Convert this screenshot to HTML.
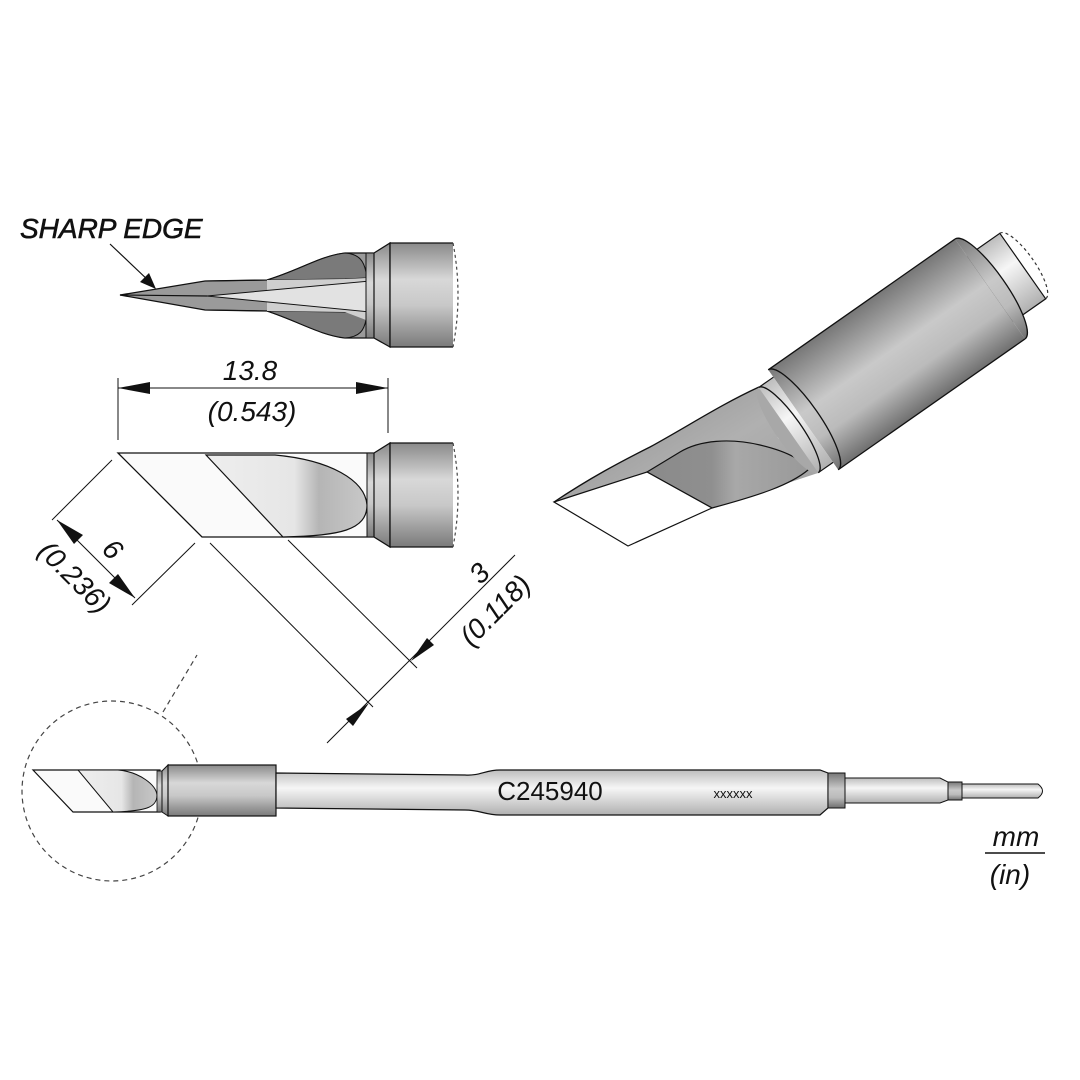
<!DOCTYPE html>
<html><head><meta charset="utf-8"><style>
html,body{margin:0;padding:0;background:#fff}
svg{display:block}
text{font-family:"Liberation Sans",sans-serif;font-style:italic;fill:#111}
</style></head><body>
<svg width="1080" height="1080" viewBox="0 0 1080 1080" xmlns="http://www.w3.org/2000/svg">
<defs>
<linearGradient id="gv" x1="0" y1="0" x2="0" y2="1">
<stop offset="0" stop-color="#8a8a8a"/><stop offset="0.35" stop-color="#d8d8d8"/><stop offset="0.6" stop-color="#c8c8c8"/><stop offset="1" stop-color="#7a7a7a"/></linearGradient>
<linearGradient id="gvl" x1="0" y1="0" x2="0" y2="1">
<stop offset="0" stop-color="#bdbdbd"/><stop offset="0.4" stop-color="#f6f6f6"/><stop offset="1" stop-color="#b0b0b0"/></linearGradient>
<linearGradient id="gbev" x1="0" y1="0" x2="1" y2="0">
<stop offset="0" stop-color="#eeeeee"/><stop offset="0.55" stop-color="#e6e6e6"/><stop offset="0.7" stop-color="#b5b5b5"/><stop offset="1" stop-color="#c8c8c8"/></linearGradient>
<linearGradient id="gcyl" x1="0" y1="0" x2="0" y2="1">
<stop offset="0" stop-color="#777"/><stop offset="0.45" stop-color="#c9c9c9"/><stop offset="0.7" stop-color="#bbb"/><stop offset="1" stop-color="#6f6f6f"/></linearGradient>
<linearGradient id="gcone" x1="0" y1="0" x2="1" y2="1">
<stop offset="0" stop-color="#8a8a8a"/><stop offset="0.5" stop-color="#b0b0b0"/><stop offset="1" stop-color="#999"/></linearGradient>
<linearGradient id="gcut" x1="0" y1="0" x2="1" y2="0">
<stop offset="0" stop-color="#8a8a8a"/><stop offset="0.4" stop-color="#8f8f8f"/><stop offset="0.55" stop-color="#a8a8a8"/><stop offset="1" stop-color="#999"/></linearGradient>
</defs>

<text x="20" y="238" font-size="28" stroke="#111" stroke-width="0.6">SHARP EDGE</text>
<line x1="110" y1="244" x2="150" y2="282" stroke="#111" stroke-width="1.2"/>
<polygon points="156,289 140,282 149,273" fill="#111"/>

<path d="M120,295 L205,281 L267,280 C300,270 320,256 345,253 L373,253 L373,338 L345,338 C320,335 300,322 267,311 L205,310 Z" fill="#9a9a9a" stroke="#111" stroke-width="1.3"/>
<path d="M267,280 C300,270 320,256 345,253 C360,254 364,262 366,272 L366,278 L345,279 Z" fill="#7a7a7a" stroke="#111" stroke-width="1"/>
<path d="M267,311 C300,322 320,335 345,338 C360,337 364,330 366,320 L366,313 L345,312 Z" fill="#7a7a7a" stroke="#111" stroke-width="1"/>
<path d="M267,280 L345,279 L366,278 L366,320 L345,312 L267,311 Z" fill="#cfcfcf" stroke="none"/>
<path d="M207,296 L370,281 L370,312 Z" fill="#e2e2e2" stroke="#111" stroke-width="1"/>
<path d="M120,295 L207,296" stroke="#111" stroke-width="1.2" fill="none"/>
<path d="M205,281 L267,280 M205,310 L267,311" stroke="#111" stroke-width="1"/>
<rect x="366" y="253" width="8" height="85" fill="url(#gv)" stroke="#111" stroke-width="1"/>
<polygon points="374,253 390,243 390,347 374,338" fill="url(#gv)" stroke="#111" stroke-width="1.2"/>
<rect x="390" y="243" width="63" height="104" fill="url(#gv)" stroke="none"/>
<path d="M453,243 L390,243 L390,347 L453,347" fill="none" stroke="#111" stroke-width="1.3"/>
<path d="M453,243 Q463,295 453,347" fill="none" stroke="#444" stroke-width="1.2" stroke-dasharray="3,3"/>

<line x1="118" y1="378" x2="118" y2="440" stroke="#111" stroke-width="1"/>
<line x1="388" y1="378" x2="388" y2="433" stroke="#111" stroke-width="1"/>
<line x1="118" y1="388" x2="388" y2="388" stroke="#111" stroke-width="1"/>
<polygon points="118,388 150,382 150,394" fill="#111"/>
<polygon points="388,388 356,382 356,394" fill="#111"/>
<text x="250" y="380" font-size="28" text-anchor="middle">13.8</text>
<text x="252" y="421" font-size="28" text-anchor="middle">(0.543)</text>

<path d="M118,453 L373,453 L373,537 L202,537 Z" fill="#fafafa" stroke="#111" stroke-width="1.3"/>
<path d="M206,455 L275,455 C330,460 365,480 367,505 C367,530 340,536 283,537 Z" fill="url(#gbev)" stroke="#111" stroke-width="1.2"/>
<rect x="367" y="453" width="7" height="84" fill="url(#gv)" stroke="#111" stroke-width="1"/>
<polygon points="374,453 390,443 390,547 374,537" fill="url(#gv)" stroke="#111" stroke-width="1.2"/>
<rect x="390" y="443" width="63" height="104" fill="url(#gv)"/>
<path d="M453,443 L390,443 L390,547 L453,547" fill="none" stroke="#111" stroke-width="1.3"/>
<path d="M453,443 Q463,495 453,547" fill="none" stroke="#444" stroke-width="1.2" stroke-dasharray="3,3"/>

<g stroke="#111" stroke-width="1" fill="none">
<line x1="112" y1="460" x2="52" y2="520"/>
<line x1="195" y1="543" x2="132" y2="605"/>
<line x1="57" y1="520" x2="135" y2="598"/>
<line x1="210" y1="543" x2="373" y2="707"/>
<line x1="288" y1="540" x2="417" y2="668"/>
<line x1="515" y1="555" x2="327" y2="743"/>
</g>
<polygon points="57,520 83,535 74,544" fill="#111"/>
<polygon points="135,598 109,583 118,574" fill="#111"/>
<polygon points="411,661 427,638 434,645" fill="#111"/>
<polygon points="369,703 353,726 346,719" fill="#111"/>
<text font-size="28" text-anchor="middle" transform="translate(106,556) rotate(45)">6</text>
<text font-size="28" text-anchor="middle" transform="translate(68,584) rotate(45)">(0.236)</text>
<text font-size="28" text-anchor="middle" transform="translate(486,580) rotate(-45)">3</text>
<text font-size="28" text-anchor="middle" transform="translate(502,617) rotate(-45)">(0.118)</text>

<path d="M554,502 C590,478 620,462 650,447 C690,425 720,405 759,387 L778,438 L818,473 L712,508 L628,546 Z" fill="url(#gcone)" stroke="none"/>
<path d="M554,502 C590,478 620,462 650,447 C690,425 720,405 759,387" fill="none" stroke="#111" stroke-width="1.3"/>
<path d="M647,472 L680,452 C700,440 730,438 760,445 C790,452 805,462 808,470 C790,485 760,495 712,508 Z" fill="url(#gcut)" stroke="#111" stroke-width="1.2"/>
<polygon points="554,502 647,472 712,508 628,546" fill="#fff" stroke="#111" stroke-width="1.2"/>
<g transform="translate(990,289) rotate(-35)">
<rect x="0" y="-40" width="40" height="80" fill="url(#gvl)" stroke="#111" stroke-width="1.2"/>
<path d="M40,-40 A12,40 0 0 1 40,40" fill="none" stroke="#333" stroke-width="1.2" stroke-dasharray="3,3"/>
<rect x="-228" y="-61" width="228" height="122" fill="url(#gcyl)"/>
<path d="M-228,-61 L0,-61 M-228,61 L0,61" stroke="#111" stroke-width="1.3"/>
<path d="M0,-61 A16,61 0 0 1 0,61" fill="url(#gcyl)" stroke="#111" stroke-width="1.3"/>
<ellipse cx="-246" cy="0" rx="13" ry="52" fill="#a8a8a8"/>
<rect x="-246" y="-52" width="18" height="104" fill="url(#gvl)"/>
<path d="M-246,-52 L-228,-52 M-246,52 L-228,52" stroke="#111" stroke-width="1.2"/>
<path d="M-228,-61 A16,61 0 0 1 -228,61" fill="none" stroke="#111" stroke-width="1.3"/>
<path d="M-246,-52 A13,52 0 0 1 -246,52" fill="none" stroke="#111" stroke-width="1.3"/>
</g>

<circle cx="112" cy="791" r="90" fill="none" stroke="#444" stroke-width="1.2" stroke-dasharray="5,4"/>
<line x1="163" y1="712" x2="197" y2="655" stroke="#444" stroke-width="1.2" stroke-dasharray="5,4"/>
<path d="M33,770 L160,770 L160,812 L73,812 Z" fill="#fafafa" stroke="#111" stroke-width="1.2"/>
<path d="M78,770 L118,770 C140,772 156,785 157,795 C157,808 145,811 113,812 Z" fill="url(#gbev)" stroke="#111" stroke-width="1"/>
<rect x="157" y="771" width="5" height="41" fill="url(#gv)" stroke="#111" stroke-width="0.8"/>
<polygon points="162,771 168,765 168,816 162,812" fill="url(#gv)" stroke="#111" stroke-width="1"/>
<rect x="168" y="765" width="108" height="51" fill="url(#gv)" stroke="#111" stroke-width="1.2"/>
<path d="M276,773 L465,775 C480,776 485,770 500,770 L820,770 L828,773 L828,808 L820,815 L500,815 C485,815 480,810 465,810 L276,808 Z" fill="url(#gvl)" stroke="#111" stroke-width="1.2"/>
<rect x="828" y="773" width="17" height="35" fill="url(#gcyl)" stroke="#111" stroke-width="1"/>
<path d="M845,778 L940,778 L948,782 L948,800 L940,803 L845,803 Z" fill="url(#gvl)" stroke="#111" stroke-width="1"/>
<rect x="948" y="782" width="14" height="18" fill="url(#gcyl)" stroke="#111" stroke-width="1"/>
<path d="M962,784 L1038,784 Q1047,791 1038,798 L962,798 Z" fill="url(#gvl)" stroke="#111" stroke-width="1"/>
<text x="550" y="800" font-size="26" text-anchor="middle" style="font-style:normal">C245940</text>
<text x="733" y="798" font-size="13" text-anchor="middle" style="font-style:normal">xxxxxx</text>

<text x="1016" y="846" font-size="28" text-anchor="middle">mm</text>
<line x1="985" y1="853" x2="1045" y2="853" stroke="#111" stroke-width="1.5"/>
<text x="1010" y="884" font-size="28" text-anchor="middle">(in)</text>
</svg>
</body></html>
